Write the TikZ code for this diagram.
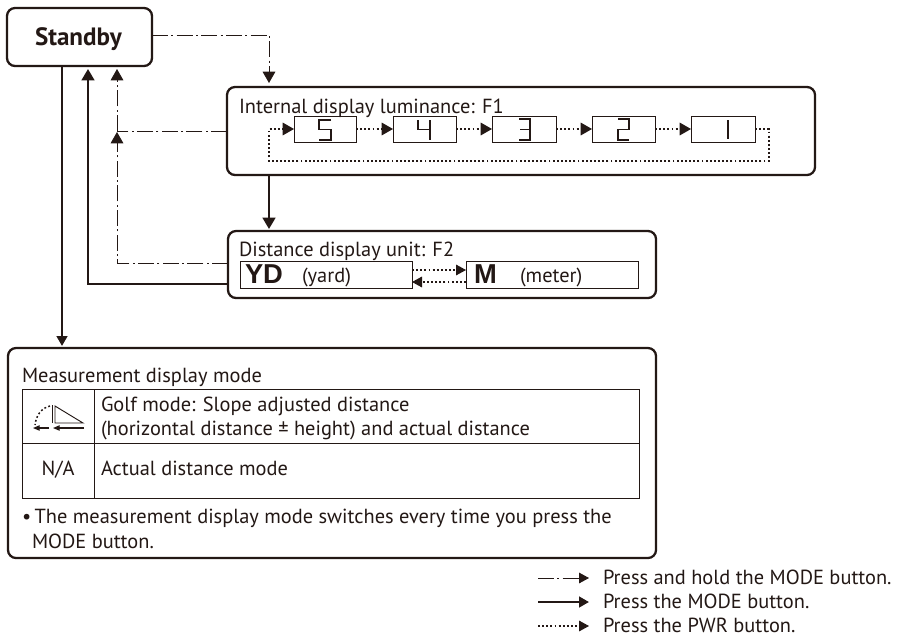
\documentclass[tikz,border=0pt]{standalone}
\usepackage{fontspec}
\setmainfont{PT Sans}
\newfontfamily\helv{Liberation Sans}
\usetikzlibrary{arrows.meta}
\definecolor{ink}{HTML}{231815}
\newcommand{\bx}[6]{\node[#6,minimum width={(#4-#2)*0.75pt},minimum height={(#5-#3)*0.75pt}] (#1) at ({(#2+#4)/2},{(#3+#5)/2}) {};}
\tikzset{
 panel/.style={draw=ink,line width=1.7pt,rounded corners=6pt,inner sep=0pt,outer sep=0pt},
 cell/.style={draw=ink,line width=0.75pt,inner sep=0pt,outer sep=0pt},
 lbl/.style={anchor=base west,inner sep=0pt,outer sep=0pt,text=ink,font=\fontsize{15.3}{18}\selectfont},
 tip/.style={-{Triangle[length=8.5pt,width=9.5pt]}},
 small tip/.style={-{Triangle[length=7.5pt,width=8pt]}},
 solid line/.style={draw=ink,line width=1.8pt},
 hold/.style={draw=ink,line width=0.65pt,dash pattern=on 12pt off 2.5pt on 1.5pt off 2.5pt},
 press/.style={draw=ink,line width=0.8pt,dash pattern=on 1.4pt off 1.7pt},
 digit/.style={draw=ink,line width=0.8pt},
}
\begin{document}
\begin{tikzpicture}[x=0.75pt,y=-0.75pt]
\useasboundingbox (0,0) rectangle (899,643);
\fill[white] (0,0) rectangle (899,643);
% panels
\bx{standby}{7}{8}{152}{66}{panel}
\bx{fone}{227}{87}{815}{175}{panel}
\bx{ftwo}{228}{231}{656}{298}{panel}
\bx{meas}{8}{348}{656}{558}{panel}
% segment boxes
\bx{five}{294}{116}{356}{142}{cell}
\bx{four}{393}{116}{456}{142}{cell}
\bx{three}{492}{116}{556}{142}{cell}
\bx{two}{592}{116}{655}{142}{cell}
\bx{one}{691}{116}{755}{142}{cell}
\bx{yd}{240}{261}{412}{288}{cell}
\bx{mt}{466}{261}{638}{288}{cell}
% table
\bx{ticon}{22}{389}{94}{443}{cell}
\bx{tgolf}{94}{389}{639}{443}{cell}
\bx{tna}{22}{443}{94}{498}{cell}
\bx{tact}{94}{443}{639}{498}{cell}
% digits
\draw[digit] (331,120)--(319,120)--(319,129.5)--(331,129.5)--(331,140)--(319,140);
\draw[digit] (418,120)--(418,129.5)--(430,129.5) (430,120)--(430,140);
\draw[digit] (519,119)--(530,119)--(530,140)--(519,140) (520,129.5)--(530,129.5);
\draw[digit] (618,119)--(629,119)--(629,129.5)--(618,129.5)--(618,140)--(629,140);
\draw[digit] (728,120)--(728,139);
% texts
\node[lbl,font=\fontsize{18.8}{22}\bfseries\selectfont] (tstandby) at (35,45) {Standby};
\node[lbl] (tf1) at (239,113) {Internal display luminance: F1};
\node[lbl] (tf2) at (239,256) {Distance display unit: F2};
\node[lbl,font=\helv\fontsize{20.5}{24}\bfseries\selectfont] (tyd) at (245,283) {YD};
\node[lbl] (tyard) at (302,282) {(yard)};
\node[lbl,font=\helv\fontsize{20.5}{24}\bfseries\selectfont] (tm) at (474,283) {M};
\node[lbl] (tmeter) at (520,282) {(meter)};
\node[lbl] (tmeas) at (22,382) {Measurement display mode};
\node[lbl] (tg1) at (101,411) {Golf mode: Slope adjusted distance};
\node[lbl] (tg2) at (101,435) {(horizontal distance ± height) and actual distance};
\node[lbl,anchor=base] (tnaa) at (58,475) {N/A};
\node[lbl] (tac) at (101,475) {Actual distance mode};
\node[lbl] (tb1) at (22,523) {•\,The measurement display mode switches every time you press the};
\node[lbl] (tb2) at (32,548) {MODE button.};
\node[lbl] (tl1) at (603,584) {Press and hold the MODE button.};
\node[lbl] (tl2) at (603,608) {Press the MODE button.};
\node[lbl] (tl3) at (603,632) {Press the PWR button.};
% free ends
\coordinate (c1) at (269,35);
\coordinate (a1) at (269,83);
\coordinate (j1) at (117,131);
\coordinate (a2) at (117,69);
\coordinate (c2) at (117,263);
\coordinate (a3) at (117,132);
\coordinate (c3) at (88,284);
\coordinate (a4) at (88,69);
% hold connectors
\draw[hold,tip] (standby.east |- c1) -- (c1) -- (a1);
\draw[hold] (fone.west |- j1) -- (j1);
\draw[hold,tip] (j1) -- (a2);
\draw[hold,tip] (ftwo.west |- c2) -- (c2) -- (a3);
% solid connectors
\coordinate (d1) at (62,66);
\coordinate (d1e) at (62,346);
\draw[solid line,small tip] (d1) -- (d1e);
\draw[solid line,tip] (ftwo.west |- c3) -- (c3) -- (a4);
\coordinate (d2) at (269,175);
\coordinate (d2e) at (269,229);
\draw[solid line,tip] (d2) -- (d2e);
% dotted connectors
\coordinate (e1) at (769,161);
\coordinate (e2) at (269,161);
\draw[press,tip] (one.east) -| (e1) -- (e2) |- (five.west);
\draw[press,tip] (five.east) -- (four.west);
\draw[press,tip] (four.east) -- (three.west);
\draw[press,tip] (three.east) -- (two.west);
\draw[press,tip] (two.east) -- (one.west);
\coordinate (u) at (0,270);
\coordinate (v) at (0,282);
\draw[press,small tip] (yd.east |- u) -- (mt.west |- u);
\draw[press,small tip] (mt.west |- v) -- (yd.east |- v);
% icon
\draw[ink,line width=0.7pt] (55,406)--(83,423)--(55,423)--cycle;
\draw[ink,line width=1.4pt] (52.5,405)--(52.5,423);
\draw[ink,line width=0.9pt,-{Triangle[length=5pt,width=4pt]}] (84,428)--(53,428);
\draw[ink,line width=0.9pt,-{Triangle[length=5pt,width=4pt]}] (49,428)--(33,428);
\draw[press,line width=1.1pt] (50,406) .. controls (41,408) and (36,416) .. (35,425);
% legend
\coordinate (l1a) at (538,578); \coordinate (l1b) at (589,578);
\coordinate (l2a) at (538,602); \coordinate (l2b) at (589,602);
\coordinate (l3a) at (538,626); \coordinate (l3b) at (589,626);
\draw[hold,small tip] (l1a) -- (l1b);
\draw[solid line,small tip] (l2a) -- (l2b);
\draw[press,small tip] (l3a) -- (l3b);
\end{tikzpicture}
\end{document}
